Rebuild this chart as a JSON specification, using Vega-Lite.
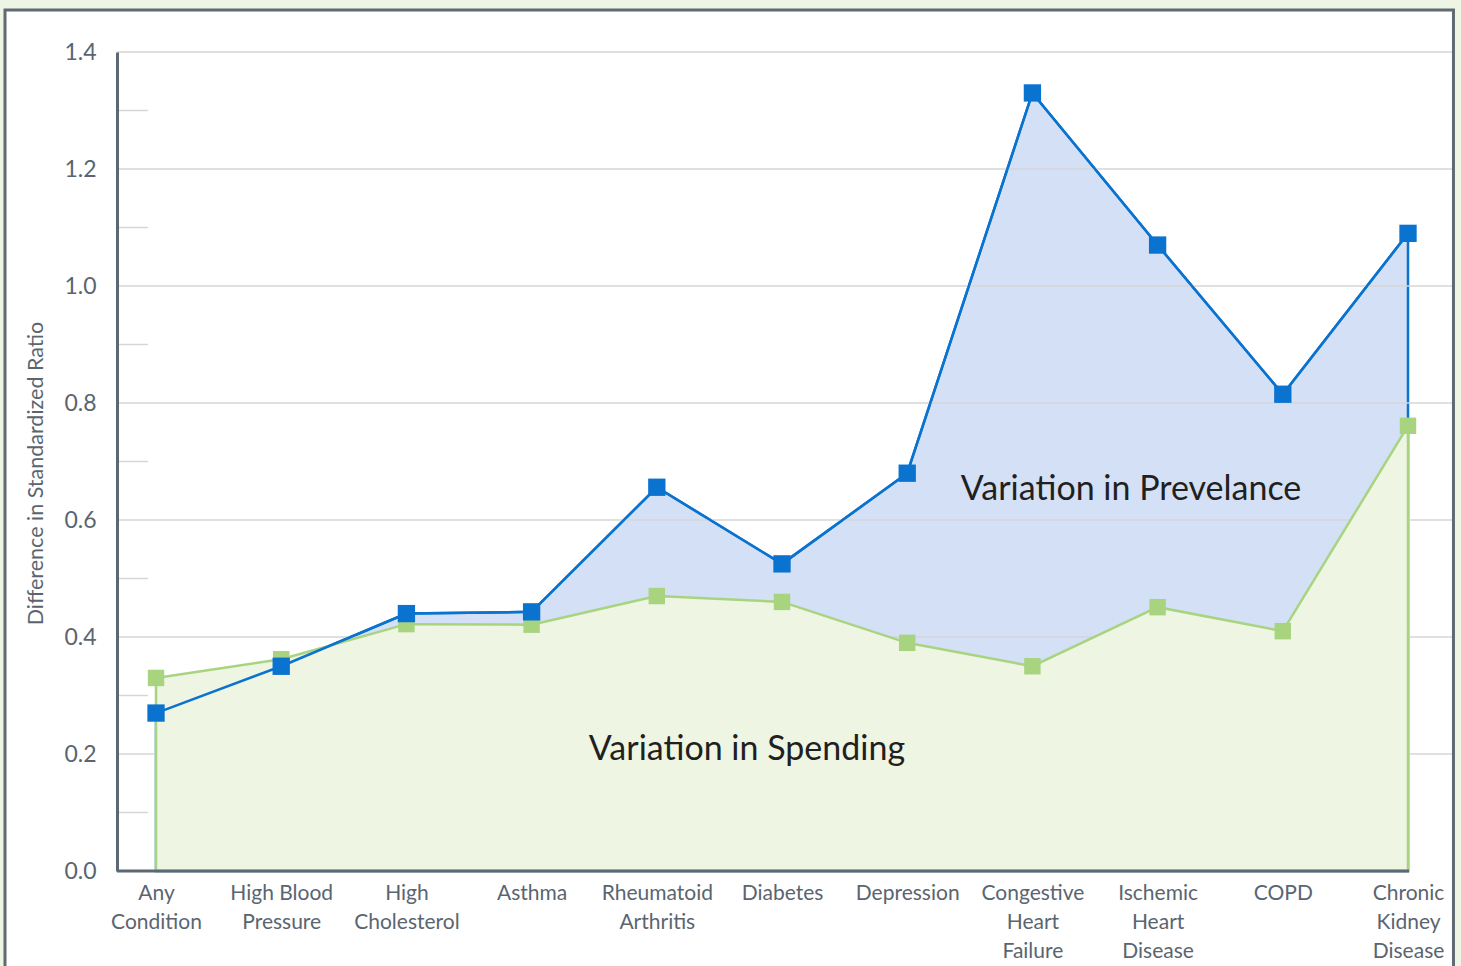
{
  "$schema": "https://vega.github.io/schema/vega-lite/v6.json",
  "width": 1335,
  "height": 819,
  "autosize": {"type": "none"},
  "padding": {"left": 117, "top": 52, "right": 9, "bottom": 95},
  "background": "#eef5e4",
  "config": {"font": "Lato", "view": {"stroke": null}},
  "datasets": {
    "conditions": [
      {"condition": "Any Condition", "prevalence": 0.27, "spending": 0.33},
      {"condition": "High Blood Pressure", "prevalence": 0.35, "spending": 0.362},
      {"condition": "High Cholesterol", "prevalence": 0.44, "spending": 0.422},
      {"condition": "Asthma", "prevalence": 0.443, "spending": 0.421},
      {"condition": "Rheumatoid Arthritis", "prevalence": 0.656, "spending": 0.47},
      {"condition": "Diabetes", "prevalence": 0.525, "spending": 0.46},
      {"condition": "Depression", "prevalence": 0.68, "spending": 0.39},
      {"condition": "Congestive Heart Failure", "prevalence": 1.33, "spending": 0.35},
      {"condition": "Ischemic Heart Disease", "prevalence": 1.07, "spending": 0.451},
      {"condition": "COPD", "prevalence": 0.815, "spending": 0.41},
      {"condition": "Chronic Kidney Disease", "prevalence": 1.09, "spending": 0.761}
    ],
    "majorTicks": [{"v": 0.2}, {"v": 0.4}, {"v": 0.6}, {"v": 0.8}, {"v": 1.0}, {"v": 1.2}, {"v": 1.4}],
    "minorTicks": [{"v": 0.1}, {"v": 0.3}, {"v": 0.5}, {"v": 0.7}, {"v": 0.9}, {"v": 1.1}, {"v": 1.3}],
    "labels": [
      {"text": "Variation in Prevelance", "px": 0.7596, "py": 0.651},
      {"text": "Variation in Spending", "px": 0.4719, "py": 0.207}
    ]
  },
  "resolve": {"scale": {"x": "independent"}},
  "layer": [
    {
      "data": {"values": [{}]},
      "mark": {"type": "rect", "fill": "white", "stroke": "#5f6a72", "strokeWidth": 3},
      "encoding": {
        "x": {"datum": -0.0839, "type": "quantitative", "scale": {"domain": [0, 1], "nice": false, "zero": false}, "axis": null},
        "x2": {"datum": 1.0011},
        "y": {"datum": 1.4718, "type": "quantitative", "scale": {"domain": [0, 1.4], "nice": false, "zero": false}, "title": "Difference in Standardized Ratio"},
        "y2": {"datum": -0.24}
      }
    },
    {
      "data": {"name": "conditions"},
      "mark": {"type": "area", "fill": "#d3e0f5", "stroke": "#0a72cf", "strokeWidth": 2.5},
      "encoding": {
        "x": {"field": "condition", "type": "nominal",
          "sort": ["Any Condition", "High Blood Pressure", "High Cholesterol", "Asthma", "Rheumatoid Arthritis", "Diabetes", "Depression", "Congestive Heart Failure", "Ischemic Heart Disease", "COPD", "Chronic Kidney Disease"],
          "scale": {"type": "point", "padding": 0.3315, "align": 0.47}, "axis": null},
        "y": {"field": "prevalence", "type": "quantitative", "scale": {"domain": [0, 1.4], "nice": false, "zero": false}, "title": "Difference in Standardized Ratio"}
      }
    },
    {
      "layer": [
        {
          "data": {"name": "majorTicks"},
          "mark": {"type": "rule", "color": "#d6d6d6", "strokeWidth": 1.5},
          "encoding": {
            "x": {"datum": 0, "type": "quantitative", "scale": {"domain": [0, 1], "nice": false, "zero": false}, "axis": null},
            "x2": {"datum": 1},
            "y": {"field": "v", "type": "quantitative", "title": "Difference in Standardized Ratio"}
          }
        },
        {
          "data": {"name": "minorTicks"},
          "mark": {"type": "rule", "color": "#d6d6d6", "strokeWidth": 1.5},
          "encoding": {
            "x": {"datum": 0, "type": "quantitative", "scale": {"domain": [0, 1], "nice": false, "zero": false}, "axis": null},
            "x2": {"datum": 0.0232},
            "y": {"field": "v", "type": "quantitative", "title": "Difference in Standardized Ratio"}
          }
        }
      ]
    },
    {
      "data": {"name": "conditions"},
      "encoding": {
        "x": {"field": "condition", "type": "nominal",
          "sort": ["Any Condition", "High Blood Pressure", "High Cholesterol", "Asthma", "Rheumatoid Arthritis", "Diabetes", "Depression", "Congestive Heart Failure", "Ischemic Heart Disease", "COPD", "Chronic Kidney Disease"],
          "scale": {"type": "point", "padding": 0.3315, "align": 0.47},
          "axis": {
            "title": null, "domain": false, "ticks": false, "labelAngle": 0,
            "labelFontSize": 21, "labelColor": "#5a6570", "labelPadding": 11,
            "labelLineHeight": 29, "labelOverlap": false, "labelLimit": 300, "zindex": 1,
            "labelExpr": "datum.label == 'High Blood Pressure' ? ['High Blood', 'Pressure'] : split(datum.label, ' ')"
          }
        }
      },
      "layer": [
        {
          "mark": {"type": "area", "fill": "#eef5e3", "stroke": "#a8d480", "strokeWidth": 2.5},
          "encoding": {
            "y": {"field": "spending", "type": "quantitative", "scale": {"domain": [0, 1.4], "nice": false, "zero": false},
              "title": "Difference in Standardized Ratio",
              "axis": {
                "values": [0, 0.2, 0.4, 0.6, 0.8, 1.0, 1.2, 1.4], "format": ".1f",
                "grid": false, "ticks": false, "domainColor": "#5d6872", "domainWidth": 3,
                "labelFontSize": 23, "labelColor": "#5a6570", "labelPadding": 21,
                "titleFontSize": 21.5, "titleFontWeight": "normal", "titleColor": "#5a6570",
                "titlePadding": 16, "titleY": 421, "zindex": 1
              }
            }
          }
        },
        {
          "mark": {"type": "square", "filled": true, "color": "#a8d480", "size": 270, "opacity": 1},
          "encoding": {"y": {"field": "spending", "type": "quantitative", "title": "Difference in Standardized Ratio"}}
        },
        {
          "mark": {"type": "line", "color": "#0a72cf", "strokeWidth": 2.5},
          "encoding": {"y": {"field": "prevalence", "type": "quantitative", "title": "Difference in Standardized Ratio"}}
        },
        {
          "mark": {"type": "square", "filled": true, "color": "#0a72cf", "size": 300, "opacity": 1},
          "encoding": {"y": {"field": "prevalence", "type": "quantitative", "title": "Difference in Standardized Ratio"}}
        }
      ]
    },
    {
      "layer": [
        {
          "data": {"values": [{}]},
          "mark": {"type": "rule", "color": "#5d6872", "strokeWidth": 3},
          "encoding": {
            "x": {"datum": 0, "type": "quantitative", "scale": {"domain": [0, 1], "nice": false, "zero": false}, "axis": null},
            "x2": {"datum": 0.9678},
            "y": {"datum": 0, "type": "quantitative", "title": "Difference in Standardized Ratio"}
          }
        },
        {
          "data": {"name": "labels"},
          "mark": {"type": "text", "fontSize": 34, "color": "#231f20", "align": "center", "baseline": "middle"},
          "encoding": {
            "x": {"field": "px", "type": "quantitative", "scale": {"domain": [0, 1], "nice": false, "zero": false}, "axis": null},
            "y": {"field": "py", "type": "quantitative", "title": "Difference in Standardized Ratio"},
            "text": {"field": "text"}
          }
        }
      ]
    }
  ]
}
